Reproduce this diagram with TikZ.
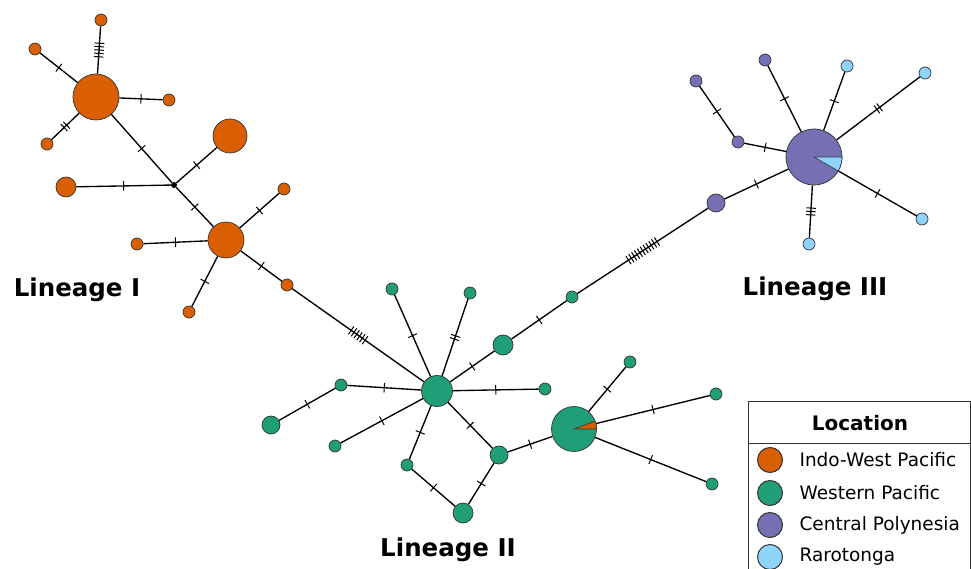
\documentclass[tikz,border=0pt]{standalone}
\usepackage{fontspec}
\setmainfont{DejaVu Sans}
\definecolor{cOr}{HTML}{D95F02}
\definecolor{cGr}{HTML}{1F9E77}
\definecolor{cPu}{HTML}{7570B3}
\definecolor{cBl}{HTML}{8DD3FA}
\definecolor{cBd}{HTML}{333333}
\tikzset{
  hap/.style={circle, inner sep=0pt, draw=cBd, line width=0.7pt, minimum size=#1},
  hap/.default=12pt,
  og/.style={fill=cOr}, gn/.style={fill=cGr}, pu/.style={fill=cPu}, lb/.style={fill=cBl},
  edge/.style={line width=1.35pt, black},
  tk/.pic={\foreach \k in {1,...,#1}{\draw[line width=1pt] ({(\k-(#1+1)/2)*3.4pt},-4.8pt) -- ({(\k-(#1+1)/2)*3.4pt},4.8pt);}},
  lin/.style={font=\fontsize{24.5}{28}\selectfont\bfseries},
  legtxt/.style={font=\fontsize{18.5}{22}\selectfont, anchor=west},
}
\newcommand{\tedge}[3]{\draw[edge] (#1) -- (#2) pic[pos=0.5, sloped]{tk=#3};}
\begin{document}
\begin{tikzpicture}[x=1pt, y=-1pt]
\useasboundingbox (0,0) rectangle (971,569);
% Lineage I nodes
\node[hap=46pt, og] (A) at (96,97) {};
\node[hap, og] (a1) at (101,20) {};
\node[hap, og] (a2) at (35,49) {};
\node[hap, og] (a3) at (169,100) {};
\node[hap, og] (a4) at (47,144) {};
\node[circle, fill=black, inner sep=0pt, minimum size=6pt] (J) at (174,185) {};
\node[hap=34pt, og] (a5) at (230,136) {};
\node[hap=20pt, og] (a6) at (66,187) {};
\node[hap=36pt, og] (B) at (226,240) {};
\node[hap, og] (b1) at (284,189) {};
\node[hap, og] (b2) at (137,244) {};
\node[hap, og] (b3) at (189,312) {};
\node[hap, og] (b4) at (287,285) {};
% Lineage II nodes
\node[hap=31pt, gn] (C) at (437,391) {};
\node[hap, gn] (c1) at (392,289) {};
\node[hap, gn] (c2) at (470,293) {};
\node[hap=20pt, gn] (c3) at (503,345) {};
\node[hap, gn] (c4) at (572,297) {};
\node[hap, gn] (c5) at (545,389) {};
\node[hap, gn] (c6) at (341,385) {};
\node[hap=18pt, gn] (c7) at (271,425) {};
\node[hap, gn] (c8) at (335,446) {};
\node[hap, gn] (c9) at (407,465) {};
\node[hap=20pt, gn] (c10) at (463,513) {};
\node[hap=18pt, gn] (c11) at (499,455) {};
\node[hap=45pt, gn] (D) at (574,429) {};
\node[hap, gn] (d1) at (630,362) {};
\node[hap, gn] (d2) at (716,394) {};
\node[hap, gn] (d3) at (712,484) {};
% Lineage III nodes
\node[hap=56pt, pu] (E) at (814,157) {};
\node[hap, pu] (e1) at (696,81) {};
\node[hap, pu] (e2) at (738,142) {};
\node[hap, pu] (e3) at (765,60) {};
\node[hap, lb] (e4) at (847,66) {};
\node[hap, lb] (e5) at (925,73) {};
\node[hap, lb] (e6) at (922,219) {};
\node[hap, lb] (e7) at (809,244) {};
\node[hap=18pt, pu] (e8) at (716,203) {};
% pie wedges
\filldraw[fill=cOr, draw=cBd, line width=0.6pt] (D.center) -- ++(0:22.5) arc[start angle=0, end angle=-20, radius=22.5] -- cycle;
\filldraw[fill=cBl, draw=cBd, line width=0.6pt] (E.center) -- ++(0:28) arc[start angle=0, end angle=30, radius=28] -- cycle;
% edges
\tedge{A}{a1}{5}
\tedge{A}{a2}{1}
\tedge{A}{a3}{1}
\tedge{A}{a4}{2}
\tedge{A}{J}{1}
\tedge{J}{a5}{1}
\tedge{J}{a6}{1}
\tedge{J}{B}{1}
\tedge{B}{b1}{1}
\tedge{B}{b2}{1}
\tedge{B}{b3}{1}
\tedge{B}{b4}{1}
\tedge{b4}{C}{6}
\tedge{C}{c1}{1}
\tedge{C}{c2}{2}
\tedge{C}{c3}{1}
\tedge{c3}{c4}{1}
\tedge{c4}{e8}{11}
\tedge{C}{c5}{1}
\tedge{C}{c6}{1}
\tedge{c6}{c7}{1}
\tedge{C}{c8}{1}
\tedge{C}{c9}{1}
\tedge{c9}{c10}{1}
\tedge{C}{c11}{1}
\tedge{c11}{c10}{1}
\tedge{c11}{D}{1}
\tedge{D}{d1}{1}
\tedge{D}{d2}{1}
\tedge{D}{d3}{1}
\tedge{e8}{E}{1}
\tedge{E}{e2}{1}
\tedge{e2}{e1}{1}
\tedge{E}{e3}{1}
\tedge{E}{e4}{1}
\tedge{E}{e5}{2}
\tedge{E}{e6}{1}
\tedge{E}{e7}{3}
% labels
\node[lin] (L1) at (77,290) {Lineage I};
\node[lin] (L2) at (448,550) {Lineage II};
\node[lin] (L3) at (815,289) {Lineage III};
% legend
\draw[line width=1pt, cBd] (748,575) -- (748,401) -- (970,401) -- (970,575);
\draw[line width=1pt, cBd] (748,443) -- (970,443);
\node[font=\fontsize{20}{24}\selectfont\bfseries] (lt) at (860,423) {Location};
\node[hap=25pt, og, line width=1pt] (l1) at (770,460) {};
\node[hap=25pt, gn, line width=1pt] (l2) at (770,493) {};
\node[hap=25pt, pu, line width=1pt] (l3) at (770,525) {};
\node[hap=25pt, lb, line width=1pt] (l4) at (770,557) {};
\node[legtxt] (t1) at (796,460) {Indo-West Pacific};
\node[legtxt] (t2) at (796,493) {Western Pacific};
\node[legtxt] (t3) at (796,525) {Central Polynesia};
\node[legtxt] (t4) at (796,557) {Rarotonga};
\end{tikzpicture}
\end{document}
